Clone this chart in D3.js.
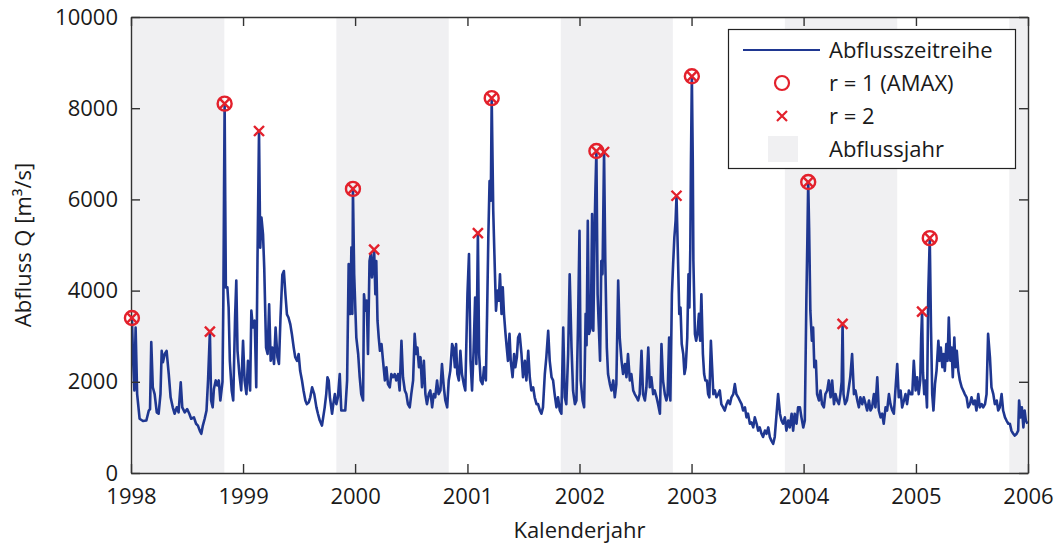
<!DOCTYPE html>
<html>
<head>
<meta charset="utf-8">
<script src="https://cdn.jsdelivr.net/npm/d3@7/dist/d3.min.js"></script>
<style>
  html, body { margin: 0; padding: 0; background: #fff; }
  svg { display: block; }
  text { font-family: "Open Sans", "Noto Sans", sans-serif; fill: #1a1a1a; }
</style>
</head>
<body>
<svg id="chart" width="1054" height="544"></svg>
<script>
// Daily discharge record, sampled: day index counted from 1 Jan 1998, discharge in m³/s
const dayOfRecord = [
  0,3,7,11,15,20,28,39,50,58,62,66,71,77,84,90,96,100,104,110,116,123,129,136,142,149,155,162,167,175,
  183,190,196,205,212,218,224,229,234,240,246,251,257,261,266,270,276,281,286,291,298,301,303,305,307,309,314,318,322,328,
  333,339,343,347,353,359,365,370,376,381,388,392,397,403,408,412,417,421,425,430,434,440,445,450,455,460,466,471,477,482,
  487,493,498,503,508,513,519,524,530,535,541,546,551,557,562,568,573,579,584,590,597,604,609,615,622,631,636,640,644,648,
  655,659,664,669,674,680,685,691,698,704,709,714,718,721,723,727,734,740,745,750,756,759,764,768,772,777,781,785,792,796,
  799,803,807,811,816,821,827,832,837,843,848,854,859,864,870,875,881,886,892,897,902,908,913,919,924,929,933,938,943,948,
  954,959,964,970,975,981,986,991,997,1002,1008,1013,1019,1024,1030,1035,1040,1046,1050,1055,1059,1063,1068,1073,1078,1084,1089,1096,1101,1106,
  1111,1116,1121,1125,1130,1134,1139,1145,1150,1156,1160,1164,1168,1172,1175,1180,1185,1189,1194,1198,1202,1207,1211,1215,1220,1224,1228,1233,1237,1243,
  1248,1252,1257,1261,1266,1272,1277,1283,1288,1294,1299,1304,1310,1315,1321,1326,1332,1337,1342,1348,1353,1359,1364,1370,1375,1380,1386,1391,1397,1402,
  1408,1413,1418,1424,1429,1435,1440,1446,1451,1456,1461,1465,1471,1476,1481,1484,1488,1492,1498,1502,1506,1511,1513,1516,1520,1528,1532,1536,1541,1545,
  1550,1554,1560,1565,1571,1576,1581,1587,1592,1598,1603,1609,1614,1619,1625,1630,1636,1641,1647,1652,1657,1663,1668,1674,1679,1685,1690,1695,1701,1706,
  1712,1717,1723,1728,1733,1739,1744,1748,1753,1757,1762,1766,1770,1774,1777,1781,1786,1790,1794,1799,1803,1807,1812,1816,1819,1822,1824,1827,1830,1832,
  1837,1841,1845,1850,1854,1858,1863,1867,1871,1876,1880,1884,1889,1893,1897,1902,1907,1913,1918,1923,1929,1934,1940,1945,1951,1956,1962,1967,1972,1978,
  1983,1989,1994,2000,2005,2010,2016,2021,2027,2032,2038,2043,2048,2054,2059,2065,2070,2076,2081,2086,2092,2097,2103,2108,2114,2119,2124,2130,2135,2141,
  2146,2152,2157,2162,2168,2173,2179,2184,2190,2195,2200,2203,2206,2209,2213,2218,2222,2226,2231,2235,2241,2246,2251,2257,2262,2268,2273,2279,2284,2290,
  2295,2300,2306,2311,2315,2318,2321,2326,2332,2337,2343,2349,2355,2360,2366,2371,2376,2382,2387,2393,2398,2404,2409,2414,2420,2425,2431,2436,2442,2447,
  2452,2458,2463,2469,2474,2480,2485,2490,2496,2501,2507,2512,2518,2523,2528,2534,2539,2545,2550,2556,2561,2566,2571,2574,2577,2580,2584,2588,2593,2597,
  2602,2606,2610,2614,2619,2624,2630,2634,2638,2643,2647,2651,2656,2660,2664,2669,2673,2677,2682,2686,2690,2695,2700,2706,2711,2716,2722,2727,2733,2738,
  2744,2749,2754,2760,2765,2771,2776,2782,2787,2792,2798,2803,2809,2814,2820,2825,2830,2836,2841,2847,2852,2858,2863,2868,2874,2879,2885,2890,2893,2898,
  2902,2907,2911,2915,2920
];
const discharge = [
  2610,3400,2460,1810,3190,1730,1190,1140,1150,1370,1400,2870,1880,1730,1330,1300,1730,2680,2430,2610,2680,2170,1660,1440,1300,1440,1330,1990,1440,1330,
  1400,1300,1190,1220,1080,1040,930,860,1040,1190,1370,2030,3100,1590,1440,1840,2030,1920,2030,1590,2000,3900,6100,8100,5970,4070,4070,3630,2460,1810,
  1590,3410,4220,2680,2170,1810,2900,2030,1730,2460,1810,3560,3190,3340,1880,4650,7500,4940,5600,5240,4510,2750,2610,3700,2460,2750,2390,3190,2540,2390,
  3410,4350,4430,3920,3480,3410,3260,3050,2750,2540,2460,2610,2240,2030,1810,1590,1510,1550,1660,1880,1730,1440,1300,1150,1040,1440,1730,2100,2030,1660,
  1300,1510,1730,1510,1660,2170,1370,1370,1370,2030,4580,3490,4950,3490,6230,4360,2970,2610,2100,1730,1590,3920,3560,3780,2610,4650,4800,4290,4900,3920,
  4650,3340,2970,2680,2830,2460,2030,2320,1950,1880,2170,2100,2170,2030,2170,1810,2900,2100,1810,1730,1510,1440,1730,2030,3050,2610,2750,2320,2540,1880,
  2460,1730,1510,1730,1810,1440,1730,1660,2030,1730,1810,2390,1880,1590,1440,2030,2240,2830,2750,2320,2830,2170,2030,2680,2170,1950,1810,3920,4800,2460,
  1810,2680,3850,2390,5260,2610,2030,1950,2320,2030,3490,5170,6400,5970,8220,5750,4510,3560,4000,3780,4360,3490,4070,3490,3050,2750,2460,3050,2460,2100,
  2610,2320,2540,2970,3050,2610,2100,2460,2030,2680,2100,1810,1880,1660,1510,1510,1370,1300,1440,2170,2540,3120,2460,2100,2030,1730,1440,1660,1370,1300,
  3190,1660,1510,2610,4360,2750,1810,1510,1590,3190,5310,2030,1590,1440,3490,2800,5530,3050,3190,5680,3120,5600,6260,7060,3920,2460,4650,4360,7040,4650,
  2750,2170,1950,1810,2030,1660,1950,4220,2970,2460,2170,2390,2100,2610,2030,2170,1810,1730,1660,1590,1730,2680,1730,1590,1880,2750,1880,2100,1730,1810,
  1660,1510,1300,2830,2030,1730,1590,1700,2970,1590,3920,4580,5170,5530,6080,4950,3490,3630,2830,2610,2170,2320,2970,4360,3630,4950,6800,8700,6840,4650,
  3050,2900,3050,3490,2900,3920,2610,2170,2030,2030,1730,1660,2900,2320,1730,1810,1660,1730,1810,1510,1440,1370,1510,1590,1510,1660,1730,1950,1730,1660,
  1590,1510,1370,1440,1220,1300,1080,1110,1000,1220,1080,930,1000,860,790,930,860,1000,790,710,640,790,1300,1730,1300,1150,1080,1220,930,1150,
  1000,1300,930,1300,1080,1440,1440,1220,1000,1150,3780,5000,6380,5380,3560,2900,3190,2320,2460,1730,1590,1810,1510,1440,1730,1810,2030,1660,2030,1510,
  1730,1590,1510,1730,2000,3270,1730,1510,1590,1810,2100,2610,1730,1810,1590,1440,1660,1510,1660,1510,1370,1590,1370,1440,1730,1440,2100,1370,1220,1300,
  1080,1440,1370,1730,1510,1370,1300,1810,2390,1660,1810,1440,1590,1730,1510,1810,1730,1730,2460,1810,2100,1730,2030,2970,3540,2200,1730,2030,1440,3920,
  5150,3190,1730,1370,1950,2240,2900,2460,2750,2320,2610,2240,2830,2460,3410,2460,2750,2100,2970,2320,2680,2240,2030,1880,1810,1730,1660,1440,1510,1660,
  1510,1590,1370,1730,1440,1510,1440,1510,1730,3050,2540,1880,1730,1510,1590,1370,1440,1730,1370,1220,1150,1080,1080,930,860,820,860,930,1590,1220,
  1440,1000,1370,1150,1080
];

// Annual maxima (r = 1) per hydrological year
const amaxDay = [3, 305, 723, 1175, 1516, 1827, 2206, 2602];
const amaxQ   = [3400, 8100, 6230, 8220, 7060, 8700, 6380, 5150];
// Second-largest peaks per hydrological year (the r = 2 set also contains the annual maxima)
const secondDay = [257, 417, 792, 1130, 1541, 1777, 2318, 2577];
const secondQ   = [3100, 7500, 4900, 5260, 7040, 6080, 3270, 3540];

// Hydrological years (Nov–Oct) drawn as shaded bands, named by their ending year
const shadedHydroYears = [1998, 2000, 2002, 2004, 2006];

const yTicks = [0, 2000, 4000, 6000, 8000, 10000];
const legendLabels = ["Abflusszeitreihe", "r = 1 (AMAX)", "r = 2", "Abflussjahr"];

const lineColor = "#1f3791";
const markerColor = "#e3212c";
const bandColor = "#f0f0f2";
const axisColor = "#333";

const svg = d3.select("#chart");
const margin = { left: 131, right: 1028, top: 17, bottom: 473 };
const t0 = Date.UTC(1998, 0, 1);
const dayToDate = d => new Date(t0 + d * 864e5);

const x = d3.scaleUtc()
  .domain([new Date(Date.UTC(1998, 0, 1)), new Date(Date.UTC(2006, 0, 1))])
  .range([margin.left, margin.right]);
const y = d3.scaleLinear().domain([0, 10000]).range([margin.bottom, margin.top]);

svg.append("defs").append("clipPath").attr("id", "plot-clip")
  .append("rect")
  .attr("x", margin.left).attr("y", margin.top)
  .attr("width", margin.right - margin.left).attr("height", margin.bottom - margin.top);

// Shaded hydrological years
svg.append("g").attr("clip-path", "url(#plot-clip)")
  .selectAll("rect").data(shadedHydroYears).join("rect")
  .attr("x", d => x(new Date(Date.UTC(d - 1, 10, 1))))
  .attr("width", d => x(new Date(Date.UTC(d, 10, 1))) - x(new Date(Date.UTC(d - 1, 10, 1))))
  .attr("y", margin.top)
  .attr("height", margin.bottom - margin.top)
  .attr("fill", bandColor);

// Discharge time series
const series = dayOfRecord.map((d, i) => ({ date: dayToDate(d), q: discharge[i] }));
svg.append("path")
  .datum(series)
  .attr("clip-path", "url(#plot-clip)")
  .attr("fill", "none")
  .attr("stroke", lineColor)
  .attr("stroke-width", 2.6)
  .attr("stroke-linejoin", "round")
  .attr("d", d3.line().x(d => x(d.date)).y(d => y(d.q)));

// Axes: ticks point inward on all four sides
const xTickVals = d3.utcYear.range(new Date(Date.UTC(1998, 0, 1)), new Date(Date.UTC(2006, 0, 2)));
const fmtYear = d3.utcFormat("%Y");

function styleAxis(g) {
  g.selectAll(".domain").attr("stroke", axisColor).attr("stroke-width", 1.4);
  g.selectAll(".tick line").attr("stroke", axisColor).attr("stroke-width", 1.4);
  g.selectAll(".tick text").attr("font-size", 22).attr("fill", "#1a1a1a")
    .attr("font-family", "'Open Sans', 'Noto Sans', sans-serif");
}

svg.append("g")
  .attr("transform", `translate(0,${margin.bottom})`)
  .call(d3.axisBottom(x).tickValues(xTickVals).tickFormat(fmtYear).tickSize(-9).tickPadding(15).tickSizeOuter(0))
  .call(styleAxis);
svg.append("g")
  .attr("transform", `translate(0,${margin.top})`)
  .call(d3.axisTop(x).tickValues(xTickVals).tickFormat("").tickSize(-9).tickSizeOuter(0))
  .call(styleAxis);
svg.append("g")
  .attr("transform", `translate(${margin.left},0)`)
  .call(d3.axisLeft(y).tickValues(yTicks).tickFormat(d3.format("d")).tickSize(-9).tickPadding(13).tickSizeOuter(0))
  .call(styleAxis);
svg.append("g")
  .attr("transform", `translate(${margin.right},0)`)
  .call(d3.axisRight(y).tickValues(yTicks).tickFormat("").tickSize(-9).tickSizeOuter(0))
  .call(styleAxis);

// Axis titles
svg.append("text")
  .attr("x", (margin.left + margin.right) / 2)
  .attr("y", 538)
  .attr("text-anchor", "middle")
  .attr("font-size", 22)
  .text("Kalenderjahr");
svg.append("text")
  .attr("transform", `translate(31,${(margin.top + margin.bottom) / 2}) rotate(-90)`)
  .attr("text-anchor", "middle")
  .attr("font-size", 22)
  .text("Abfluss Q [m³/s]");

// Peak markers
const crossPath = s => `M${-s},${-s}L${s},${s}M${-s},${s}L${s},${-s}`;
const peaks = svg.append("g");
const amax = amaxDay.map((d, i) => ({ date: dayToDate(d), q: amaxQ[i] }));
const rTwo = amax.concat(secondDay.map((d, i) => ({ date: dayToDate(d), q: secondQ[i] })));

peaks.selectAll("circle").data(amax).join("circle")
  .attr("cx", d => x(d.date)).attr("cy", d => y(d.q))
  .attr("r", 7)
  .attr("fill", "none").attr("stroke", markerColor).attr("stroke-width", 2.4);
peaks.selectAll("path").data(rTwo).join("path")
  .attr("transform", d => `translate(${x(d.date)},${y(d.q)})`)
  .attr("d", crossPath(5))
  .attr("fill", "none").attr("stroke", markerColor).attr("stroke-width", 2.4);

// Legend
const lg = svg.append("g");
lg.append("rect")
  .attr("x", 728.5).attr("y", 29.5).attr("width", 287).attr("height", 139)
  .attr("fill", "#fff").attr("stroke", "#222").attr("stroke-width", 1.2);
const rowY = [50, 83, 116, 149];
lg.append("line").attr("x1", 743).attr("x2", 820).attr("y1", rowY[0]).attr("y2", rowY[0])
  .attr("stroke", lineColor).attr("stroke-width", 2.2);
lg.append("circle").attr("cx", 782).attr("cy", rowY[1]).attr("r", 7)
  .attr("fill", "none").attr("stroke", markerColor).attr("stroke-width", 2.2);
lg.append("path").attr("transform", `translate(782,${rowY[2]})`).attr("d", crossPath(5))
  .attr("stroke", markerColor).attr("stroke-width", 2.2);
lg.append("rect").attr("x", 768).attr("y", rowY[3] - 13).attr("width", 30).attr("height", 26)
  .attr("fill", bandColor);
lg.selectAll("text.lbl").data(legendLabels).join("text")
  .attr("class", "lbl")
  .attr("x", 829).attr("y", (d, i) => rowY[i])
  .attr("dy", "0.36em")
  .attr("font-size", 22)
  .text(d => d);
</script>
</body>
</html>
